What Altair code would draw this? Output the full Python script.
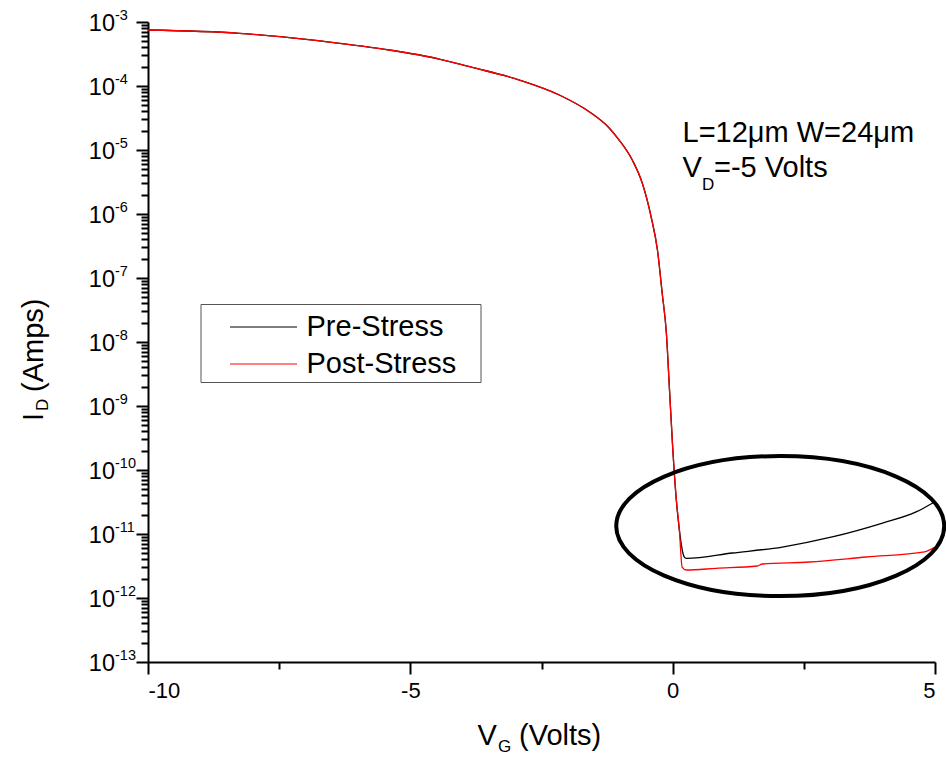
import altair as alt
import pandas as pd

# ---- data ----
# part shared by both curves (they overlap for V_G < ~0.15 V)
vg_common = [-10.0, -8.26, -7.30, -6.35, -5.40, -4.45, -3.87, -2.92, -2.16, -1.59,
             -1.21, -1.02, -0.77, -0.58, -0.41, -0.29, -0.20, -0.12, -0.06, 0.0,
             0.065, 0.128]
id_common = [7.5e-4, 6.66e-4, 5.69e-4, 4.65e-4, 3.65e-4, 2.64e-4, 2.0e-4, 1.24e-4,
             7.23e-5, 3.96e-5, 2.21e-5, 1.43e-5, 6.98e-6, 3.05e-6, 8.98e-7, 2.74e-7,
             5.83e-8, 1.38e-8, 1.78e-9, 2.29e-10, 3.8e-11, 1.15e-11]
vg_pre_tail = [0.22, 0.26, 1.14, 2.09, 3.04, 4.00, 4.64, 4.99]
id_pre_tail = [4.4e-12, 4.17e-12, 5.05e-12, 6.26e-12, 8.98e-12, 1.48e-11, 2.21e-11, 3.16e-11]
vg_post_tail = [0.18, 0.26, 0.83, 1.61, 1.71, 2.60, 3.69, 4.80, 4.99]
id_post_tail = [3.05e-12, 2.74e-12, 2.91e-12, 3.16e-12, 3.40e-12, 3.65e-12, 4.37e-12,
                5.25e-12, 6.17e-12]

series_names = ["Pre-Stress", "Post-Stress"]
series_colors = ["#000000", "#ff0000"]

y_exponents = list(range(-13, -2))
x_tick_values = [-10, -7.5, -5, -2.5, 0, 2.5, 5]

# highlighted region (ellipse) centre in data units
ell_vg = [2.05]
ell_id = [1.33e-11]

FONT = "Liberation Sans"

pre = pd.DataFrame({"VG": vg_common + vg_pre_tail, "ID": id_common + id_pre_tail,
                    "series": series_names[0]})
post = pd.DataFrame({"VG": vg_common + vg_post_tail, "ID": id_common + id_post_tail,
                     "series": series_names[1]})

y_major = [10.0 ** e for e in y_exponents]
y_minor = [m * 10.0 ** e for e in y_exponents[:-1] for m in range(2, 10)]
y_ticks = sorted(y_major + y_minor)

xscale = alt.Scale(domain=[-10, 5], nice=False, zero=False)
yscale = alt.Scale(type="log", domain=[1e-13, 1e-3], nice=False)

x_axis = alt.Axis(values=x_tick_values, title=None, grid=False,
                  labelExpr="datum.value % 5 == 0 ? '' + datum.value : ''",
                  labelFontSize=22, labelFont=FONT, labelColor="black", labelPadding=6,
                  domainColor="black", domainWidth=2, tickColor="black", tickWidth=2,
                  tickSize={"condition": {"test": "datum.value % 5 == 0", "value": 12}, "value": 7})
y_axis = alt.Axis(values=y_ticks, title=None, grid=False, labels=False,
                  domainColor="black", domainWidth=2, tickColor="black", tickWidth=2,
                  tickSize={"condition": {"test": "abs(log(datum.value)/LN10 - round(log(datum.value)/LN10)) < 0.001", "value": 12}, "value": 7})

color = alt.Color("series:N", scale=alt.Scale(domain=series_names, range=series_colors),
                  legend=alt.Legend(orient="none", legendX=52.5, legendY=282, title=" ",
                                    titleFontSize=4, titlePadding=2,
                                    symbolType="stroke", symbolSize=4489, symbolStrokeWidth=1,
                                    clipHeight=29, rowPadding=7, labelFontSize=29,
                                    labelFont=FONT, labelColor="black", labelOffset=9,
                                    labelExpr="datum.label + '\u2800'",
                                    padding=2.5, symbolOffset=26.5, strokeColor="#555555",
                                    fillColor="white", cornerRadius=0, labelLimit=400))

line_pre = alt.Chart(pre).mark_line(strokeWidth=1.3, interpolate="monotone").encode(
    x=alt.X("VG:Q", scale=xscale, axis=x_axis),
    y=alt.Y("ID:Q", scale=yscale, axis=y_axis),
    color=color,
)
line_post = alt.Chart(post).mark_line(strokeWidth=1.3, interpolate="monotone").encode(
    x=alt.X("VG:Q", scale=xscale),
    y=alt.Y("ID:Q", scale=yscale),
    color=color,
)

# y tick labels as 10 with superscript exponent
ylab = pd.DataFrame({"v": y_major, "exp": [str(e) for e in y_exponents]})
ylab_base = alt.Chart(ylab).mark_text(text="10", align="right", baseline="middle", dy=1.5,
                                      fontSize=23.5, font=FONT, color="black").encode(
    x=alt.value(-33), y=alt.Y("v:Q", scale=yscale))
ylab_exp = alt.Chart(ylab).mark_text(align="left", baseline="middle", dy=-6,
                                     fontSize=14.5, font=FONT, color="black").encode(
    x=alt.value(-33), y=alt.Y("v:Q", scale=yscale), text="exp:N")

# ellipse highlighting the off-state leakage
k = 0.5523
r = 0.427
ell_path = (f"M -1 0 C -1 {-k*r:.4f} {-k:.4f} {-r} 0 {-r} C {k:.4f} {-r} 1 {-k*r:.4f} 1 0 "
            f"C 1 {k*r:.4f} {k:.4f} {r} 0 {r} C {-k:.4f} {r} -1 {k*r:.4f} -1 0 Z")
ell = alt.Chart(pd.DataFrame({"VG": ell_vg, "ID": ell_id})).mark_point(
    shape=ell_path, size=328 ** 2, filled=False, stroke="black", strokeWidth=4, opacity=1
).encode(x=alt.X("VG:Q", scale=xscale), y=alt.Y("ID:Q", scale=yscale))

def txt(s, x, y, size=29, angle=0):
    return alt.Chart(pd.DataFrame({"t": [s]})).mark_text(
        align="left", baseline="alphabetic", fontSize=size, font=FONT, color="black", angle=angle
    ).encode(x=alt.value(x), y=alt.value(y), text="t:N")

annot = [
    txt("L=12\u03bcm W=24\u03bcm", 534.5, 120),
    txt("V", 534.5, 155),
    txt("D", 554, 168, 17),
    txt("=-5 Volts", 566, 155),
    # x-axis title
    txt("V", 329.5, 723),
    txt("G", 350, 730, 17),
    txt("(Volts)", 371, 723),
    # y-axis title (rotated)
    txt("I", -105.5, 399, 29, 270),
    txt("D", -100.5, 389, 17, 270),
    txt("(Amps)", -105.5, 370, 29, 270),
]

chart = alt.layer(line_pre, line_post, ylab_base, ylab_exp, ell, *annot).properties(
    width=787, height=640,
    autosize=alt.AutoSizeParams(type="none"),
    padding={"left": 148, "top": 22, "right": 11, "bottom": 99},
    background="white",
).configure_view(stroke=None)

chart.save("out.html", embed_options={"renderer": "svg", "actions": False})
